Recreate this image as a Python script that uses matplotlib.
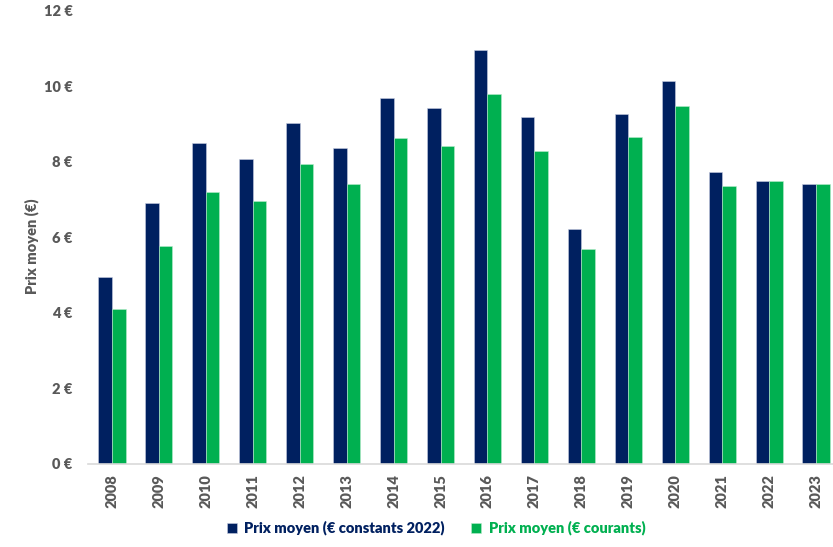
import matplotlib
matplotlib.use("Agg")
import matplotlib.pyplot as plt
import numpy as np

annees = ['2008', '2009', '2010', '2011', '2012', '2013', '2014', '2015',
          '2016', '2017', '2018', '2019', '2020', '2021', '2022', '2023']
prix_constants = [4.94, 6.92, 8.50, 8.08, 9.03, 8.37, 9.68, 9.42,
                  10.96, 9.19, 6.21, 9.28, 10.14, 7.72, 7.49, 7.40]
prix_courants = [4.11, 5.76, 7.19, 6.97, 7.93, 7.41, 8.62, 8.42,
                 9.79, 8.28, 5.68, 8.67, 9.47, 7.36, 7.49, 7.40]
yticks = [0, 2, 4, 6, 8, 10, 12]

navy = '#002060'
vert = '#00B050'
gris = '#595959'

plt.rcParams['font.family'] = ['Lato', 'DejaVu Sans']

fig = plt.figure(figsize=(8.33, 5.47), dpi=100)
ax = fig.add_axes([88 / 833, 1 - 463.5 / 547, 1 - 88 / 833, (463.5 - 11) / 547])

x = np.arange(len(annees))
w = 0.29
ax.bar(x - w / 2, prix_constants, w, color=navy, edgecolor='#c8cde0', linewidth=0.4,
       label='Prix moyen (€ constants 2022)')
ax.bar(x + w / 2, prix_courants, w, color=vert, edgecolor='#b8eccb', linewidth=0.4,
       label='Prix moyen (€ courants)')

ax.set_xlim(-0.51, 15.36)
ax.set_ylim(0, 12)
ax.set_yticks(yticks)
ax.set_yticklabels([f'{v} €' for v in yticks])
ax.set_xticks(x)
ax.set_xticklabels(annees, rotation=90)
for lab in ax.get_xticklabels() + ax.get_yticklabels():
    lab.set_fontweight('heavy')
    lab.set_color(gris)
    lab.set_fontsize(10.5)

ax.tick_params(length=0)
ax.tick_params(axis='y', pad=11)
ax.tick_params(axis='x', pad=8)
for s in ['top', 'right', 'left']:
    ax.spines[s].set_visible(False)
ax.spines['bottom'].set_color('#d9d9d9')
ax.spines['bottom'].set_linewidth(1.2)

ax.set_ylabel('Prix moyen (€)', fontsize=10.5, fontweight='heavy', color=gris)
ax.yaxis.set_label_coords((39 - 88) / 745, 0.48)

leg = fig.legend(loc='center', bbox_to_anchor=(436 / 833, 1 - 528 / 547), ncol=2,
                 frameon=False, fontsize=10.5, handlelength=0.7, handleheight=0.7,
                 handletextpad=0.5, columnspacing=1.8)
for txt, c in zip(leg.get_texts(), [navy, vert]):
    txt.set_color(c)
    txt.set_fontweight('heavy')

fig.savefig('out.png', dpi=100)
